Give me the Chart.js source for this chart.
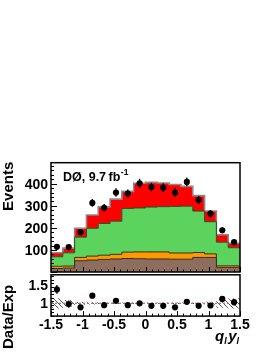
<!DOCTYPE html>
<html>
<head>
<meta charset="utf-8">
<script src="https://cdn.jsdelivr.net/npm/chart.js@4.4.1/dist/chart.umd.min.js"></script>
<style>
  html, body { margin: 0; padding: 0; background: #fff; }
  body { width: 272px; height: 352px; position: relative; overflow: hidden; }
  canvas { position: absolute; left: 0; display: block; }
  #mainChart { top: 150px; }
  #ratioChart { top: 270px; }
</style>
</head>
<body>
<canvas id="mainChart" width="272" height="126"></canvas>
<canvas id="ratioChart" width="272" height="82"></canvas>
<script>
// bins in q_l * y_l
const binEdges = [-1.5, -1.3125, -1.125, -0.9375, -0.75, -0.5625, -0.375, -0.1875, 0,
                  0.1875, 0.375, 0.5625, 0.75, 0.9375, 1.125, 1.3125, 1.5];
const xTickValues = [-1.5, -1, -0.5, 0, 0.5, 1, 1.5];
const xTickLabels = ['-1.5', '-1', '-0.5', '0', '0.5', '1', '1.5'];
const eventTicks = [100, 200, 300, 400];
const ratioTicks = [1, 1.5];
const ratioTickLabels = ['1', '1.5'];

// events per bin
const dataCounts = [114, 113, 180, 313, 291, 360, 355, 402, 385, 382, 360, 408, 326, 264, 189, 135];
const otherBkg   = [16, 18, 51, 54, 57, 59, 61, 60, 59, 59, 58, 58, 66, 66, 21, 21];
const multijet   = [10, 9, 15, 18, 19, 21, 29, 31, 32, 32, 28, 28, 22, 16, 7, 7];
const wJets      = [43, 60, 92, 126, 144, 150, 198, 199, 203, 205, 211, 212, 188, 146, 107, 82];
const ttbarSig   = [18, 21, 40, 60, 75, 100, 77, 112, 112, 107, 99, 90, 70, 48, 34, 20];

// data / expectation
const ratioVals = [1.38, 0.98, 0.89, 1.21, 0.95, 1.07, 0.95, 1.00, 0.93, 0.93, 0.89, 1.04, 0.93, 0.94, 1.12, 1.03];
const ratioErr  = [0.12, 0.10, 0.07, 0.07, 0.06, 0.06, 0.05, 0.05, 0.05, 0.05, 0.05, 0.05, 0.05, 0.06, 0.08, 0.09];
const bandErr   = [0.14, 0.09, 0.04, 0.03, 0.02, 0.02, 0.02, 0.02, 0.02, 0.02, 0.02, 0.02, 0.02, 0.04, 0.12, 0.14];

const FONT = 'Liberation Sans, Arial, Helvetica, sans-serif';
const binCenters = binEdges.slice(0, -1).map((e, i) => (e + binEdges[i + 1]) / 2);

// one point per bin edge, last bin repeated so the step closes at 1.5
function stepPoints(vals) {
  return binEdges.map((x, i) => ({ x, y: vals[Math.min(i, vals.length - 1)] }));
}

function layer(label, vals, fill, bg, border, bw) {
  return {
    label, data: stepPoints(vals), stepped: true, fill,
    backgroundColor: bg, borderColor: border, borderWidth: bw,
    pointRadius: 0, stack: 'mc'
  };
}

function drawFrame(chart, yMinorStep, yMajorStep) {
  const { ctx, chartArea: a, scales: { x, y } } = chart;
  ctx.save();
  ctx.strokeStyle = '#000';
  ctx.lineWidth = 1;
  ctx.beginPath();
  for (let v = y.min; v <= y.max + 1e-9; v += yMinorStep) {
    const r = Math.round(v / yMajorStep * 1000) / 1000;
    const len = Number.isInteger(r) ? 6 : 3;
    const py = Math.round(y.getPixelForValue(v)) + 0.5;
    ctx.moveTo(a.left, py); ctx.lineTo(a.left + len, py);
  }
  for (let i = 0; i <= 30; i++) {
    const v = -1.5 + i * 0.1;
    const len = i % 5 === 0 ? 5 : 2.5;
    const px = Math.round(x.getPixelForValue(v)) + 0.5;
    ctx.moveTo(px, a.bottom); ctx.lineTo(px, a.bottom - len);
  }
  ctx.stroke();
  ctx.lineWidth = 1.5;
  ctx.strokeRect(a.left, a.top, a.right - a.left, a.bottom - a.top);
  ctx.restore();
}

function drawYLabels(chart, values, labels) {
  const { ctx, scales: { y } } = chart;
  ctx.save();
  ctx.fillStyle = '#000';
  ctx.font = 'bold 14px ' + FONT;
  ctx.textAlign = 'right';
  ctx.textBaseline = 'alphabetic';
  values.forEach((v, i) => ctx.fillText(labels[i], 48, y.getPixelForValue(v) + 5));
  ctx.restore();
}

function drawErrors(chart, values, errs) {
  const { ctx, scales: { y } } = chart;
  const meta = chart.getDatasetMeta(0);
  ctx.save();
  ctx.strokeStyle = '#000';
  ctx.lineWidth = 1.3;
  ctx.beginPath();
  meta.data.forEach((pt, i) => {
    const e = errs[i];
    ctx.moveTo(pt.x, y.getPixelForValue(values[i] - e));
    ctx.lineTo(pt.x, y.getPixelForValue(values[i] + e));
  });
  ctx.stroke();
  ctx.restore();
}

const mainDecor = {
  id: 'mainDecor',
  afterDatasetsDraw(chart) {
    const { ctx, chartArea: a } = chart;
    drawErrors(chart, dataCounts, dataCounts.map(n => Math.sqrt(n)));
    drawFrame(chart, 20, 100);
    drawYLabels(chart, eventTicks, eventTicks.map(String));
    ctx.save();
    ctx.fillStyle = '#000';
    ctx.font = 'bold 15px ' + FONT;
    ctx.translate(9, a.top - 1);
    ctx.rotate(-Math.PI / 2);
    ctx.textAlign = 'right';
    ctx.textBaseline = 'middle';
    ctx.fillText('Events', 0, 0);
    ctx.restore();
    ctx.save();
    ctx.fillStyle = '#000';
    ctx.font = 'bold 12.5px ' + FONT;
    ctx.textBaseline = 'alphabetic';
    const txt = 'DØ, 9.7\u2009fb';
    ctx.fillText(txt, 63, a.top + 18);
    const w = ctx.measureText(txt).width;
    ctx.font = 'bold 8.5px ' + FONT;
    ctx.fillText('-1', 63 + w + 0.5, a.top + 12);
    ctx.restore();
  }
};

const ratioDecor = {
  id: 'ratioDecor',
  afterDatasetDraw(chart, args) {
    if (args.index !== 1) return;
    const { ctx, chartArea: a, scales: { y } } = chart;
    const py = y.getPixelForValue(1);
    ctx.save();
    ctx.strokeStyle = '#a87070';
    ctx.lineWidth = 1.2;
    ctx.setLineDash([2, 2]);
    ctx.beginPath();
    ctx.moveTo(a.left, py); ctx.lineTo(a.right, py);
    ctx.stroke();
    ctx.restore();
  },
  afterDatasetsDraw(chart) {
    const { ctx, chartArea: a, scales: { x } } = chart;
    drawErrors(chart, ratioVals, ratioErr);
    drawFrame(chart, 0.1, 0.5);
    drawYLabels(chart, ratioTicks, ratioTickLabels);
    ctx.save();
    ctx.fillStyle = '#000';
    ctx.font = 'bold 14px ' + FONT;
    ctx.textAlign = 'center';
    ctx.textBaseline = 'alphabetic';
    xTickValues.forEach((v, i) => ctx.fillText(xTickLabels[i], x.getPixelForValue(v), a.bottom + 13));
    ctx.restore();
    ctx.save();
    ctx.fillStyle = '#000';
    ctx.font = 'bold 15px ' + FONT;
    ctx.translate(9, 79);
    ctx.rotate(-Math.PI / 2);
    ctx.textAlign = 'left';
    ctx.textBaseline = 'middle';
    ctx.fillText('Data/Exp', 0, 0);
    ctx.restore();
    // x axis title q_l y_l
    ctx.save();
    ctx.fillStyle = '#000';
    let px = 215;
    const base = 71;
    const parts = [['q', 15, 0], ['l', 9, 3], ['y', 15, 0], ['l', 9, 3]];
    parts.forEach(([t, s, dy]) => {
      ctx.font = 'italic bold ' + s + 'px ' + FONT;
      ctx.fillText(t, px, base + dy);
      px += ctx.measureText(t).width + (s < 12 ? 1.5 : 0);
    });
    ctx.restore();
  }
};

function hatchPattern() {
  const c = document.createElement('canvas');
  c.width = 5; c.height = 5;
  const g = c.getContext('2d');
  g.strokeStyle = '#5a5a5a';
  g.lineWidth = 1;
  g.beginPath();
  g.moveTo(0, 0); g.lineTo(5, 5);
  g.moveTo(-1, 4); g.lineTo(1, 6);
  g.moveTo(4, -1); g.lineTo(6, 1);
  g.stroke();
  return g.createPattern(c, 'repeat');
}

new Chart(document.getElementById('mainChart'), {
  type: 'line',
  data: {
    datasets: [
      {
        label: 'Data', data: binCenters.map((x, i) => ({ x, y: dataCounts[i] })),
        showLine: false, pointRadius: 3.1, pointBorderWidth: 0,
        pointBackgroundColor: '#000', stack: 'data'
      },
      layer('Other', otherBkg, 'origin', '#8c6d5e', '#3b2b22', 1),
      layer('Multijet', multijet, '-1', '#ff9900', '#3b2b22', 1),
      layer('W+jets', wJets, '-1', '#5cd35c', '#2d4a2d', 1),
      layer('ttbar', ttbarSig, '-1', '#ff0000', '#8a8a8a', 1.6)
    ]
  },
  options: {
    responsive: false,
    animation: false,
    layout: { padding: { left: 51, right: 32, top: 12.7, bottom: 1 } },
    plugins: { legend: { display: false }, tooltip: { enabled: false } },
    scales: {
      x: { type: 'linear', min: -1.5, max: 1.5, display: false },
      y: { type: 'linear', min: 0, max: 495, stacked: true, display: false }
    }
  },
  plugins: [mainDecor]
});

new Chart(document.getElementById('ratioChart'), {
  type: 'line',
  data: {
    datasets: [
      {
        label: 'Data/Exp', data: binCenters.map((x, i) => ({ x, y: ratioVals[i] })),
        showLine: false, pointRadius: 3.1, pointBorderWidth: 0, pointBackgroundColor: '#000'
      },
      {
        label: 'band low', data: stepPoints(bandErr.map(e => 1 - e)), stepped: true,
        fill: false, borderColor: 'transparent', borderWidth: 0, pointRadius: 0
      },
      {
        label: 'band high', data: stepPoints(bandErr.map(e => 1 + e)), stepped: true,
        fill: '-1', backgroundColor: hatchPattern(), borderColor: 'transparent',
        borderWidth: 0, pointRadius: 0
      }
    ]
  },
  options: {
    responsive: false,
    animation: false,
    layout: { padding: { left: 51, right: 32, top: 4.8, bottom: 35.9 } },
    plugins: { legend: { display: false }, tooltip: { enabled: false } },
    scales: {
      x: { type: 'linear', min: -1.5, max: 1.5, display: false },
      y: { type: 'linear', min: 0.65, max: 1.78, display: false }
    }
  },
  plugins: [ratioDecor]
});
</script>
</body>
</html>
